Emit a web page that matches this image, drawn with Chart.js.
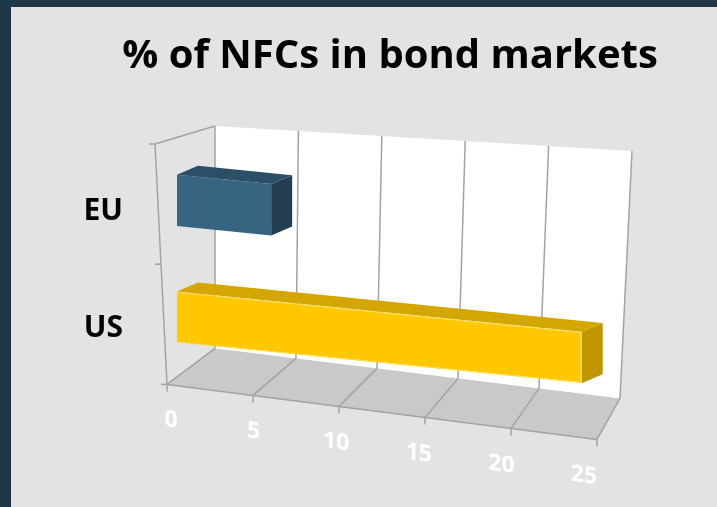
<!DOCTYPE html>
<html>
<head>
<meta charset="utf-8">
<script src="https://cdn.jsdelivr.net/npm/chart.js@4.4.1/dist/chart.umd.min.js"></script>
<style>
  html, body { margin: 0; padding: 0; background: #1f3748; }
  #panel { position: absolute; left: 11px; top: 7px; width: 706px; height: 500px; background: #e3e3e3; }
</style>
</head>
<body>
<div id="panel"><canvas id="bondChart" width="706" height="500"></canvas></div>
<script>
// data
const regions = ['EU', 'US'];
const nfcShare = [5.7, 24.5];
const xTicks = [0, 5, 10, 15, 20, 25];

const frontColors = ['#376480', '#ffc800'];
const topColors = ['#2b4f67', '#d4a700'];
const sideColors = ['#243e51', '#c09700'];

// fake 3d: bars get a slanted look, faces pushed back by dx/dy
const SHEAR = 0.1;
const LABEL_SHEAR = 0.134;
const DX = 21, DY = -11;

const poly = (ctx, pts, fill) => {
    ctx.beginPath();
    ctx.moveTo(pts[0][0], pts[0][1]);
    pts.slice(1).forEach(p => ctx.lineTo(p[0], p[1]));
    ctx.closePath();
    ctx.fillStyle = fill;
    ctx.fill();
};
const line = (ctx, p, q) => {
    ctx.beginPath();
    ctx.moveTo(p[0], p[1]);
    ctx.lineTo(q[0], q[1]);
    ctx.stroke();
};
const lerp = (p, q, f) => [p[0] + (q[0] - p[0]) * f, p[1] + (q[1] - p[1]) * f];

const frame3d = {
    id: 'frame3d',
    beforeDraw(chart) {
        const { ctx, chartArea: a, scales: { x } } = chart;
        const L = a.left, R = a.right, T = a.top, B = a.bottom;
        // back wall, floor and left side corners
        const wTL = [L + 38, T - 16], wTR = [R + 42, T + 9];
        const wBR = [R + 30, B + 23], wBL = [L + 38, B - 27];
        const fFL = [L - 10, B + 9], fFR = [R + 7, B + 64];
        const sTF = [L - 22, T + 2];

        ctx.save();
        poly(ctx, [wTL, wTR, wBR, wBL], '#ffffff');
        poly(ctx, [wBL, wBR, fFR, fFL], '#c9c9c9');
        ctx.strokeStyle = '#a3a3a3';
        ctx.lineWidth = 1.5;
        xTicks.forEach(v => {
            const f = (x.getPixelForValue(v) - L) / (R - L);
            line(ctx, lerp(wTL, wTR, f), lerp(wBL, wBR, f));
            line(ctx, lerp(wBL, wBR, f), lerp(fFL, fFR, f));
            const p = lerp(fFL, fFR, f);
            line(ctx, p, [p[0], p[1] + 7]);
        });
        line(ctx, fFL, fFR);
        line(ctx, sTF, wTL);
        line(ctx, sTF, fFL);
        [0, 0.5, 1].forEach(f => {
            const p = lerp(sTF, fFL, f);
            line(ctx, [p[0] - 6, p[1]], p);
        });
        ctx.restore();
    },
    beforeDatasetsDraw(chart) {
        const { ctx, chartArea: a } = chart;
        ctx.save();
        ctx.transform(1, SHEAR, 0, 1, 0, -SHEAR * a.left);
    },
    afterDatasetsDraw(chart) {
        const { ctx, chartArea: a } = chart;
        chart.getDatasetMeta(0).data.forEach((bar, i) => {
            const { x, y, base, height } = bar.getProps(['x', 'y', 'base', 'height'], true);
            const top = y - height / 2, bot = y + height / 2;
            poly(ctx, [[base, top], [x, top], [x + DX, top + DY], [base + DX, top + DY]], topColors[i]);
            poly(ctx, [[x, top], [x + DX, top + DY], [x + DX, bot + DY], [x, bot]], sideColors[i]);
        });
        ctx.restore();
        // x tick labels (z:1) are drawn after this, on the slanted floor line
        ctx.save();
        ctx.transform(1, LABEL_SHEAR, 0, 1, 0, -LABEL_SHEAR * a.left);
    },
    afterDraw(chart) {
        chart.ctx.restore();
    }
};

var ctx = document.getElementById('bondChart').getContext('2d');
var bondChart = new Chart(ctx, {
    type: 'bar',
    data: {
        labels: regions,
        datasets: [{
            label: '% of NFCs',
            data: nfcShare,
            yAxisID: 'y',
            backgroundColor: frontColors,
            borderColor: ['#376480', '#ffd94a'],
            borderWidth: [0, 1],
            barPercentage: 0.44,
            categoryPercentage: 1
        }]
    },
    options: {
        indexAxis: 'y',
        responsive: false,
        animation: false,
        layout: { padding: { left: 52, right: 0, top: 0, bottom: 40 } },
        plugins: {
            legend: { display: false },
            tooltip: { enabled: false },
            title: {
                display: true,
                text: '% of NFCs in bond markets',
                color: '#000',
                font: { family: "'Open Sans', sans-serif", size: 40, weight: 'bold' },
                padding: { top: 26, bottom: 61 }
            }
        },
        scales: {
            x: {
                min: 0,
                max: 25,
                grid: { display: false, drawTicks: false },
                border: { display: false },
                ticks: {
                    stepSize: 5,
                    color: '#ffffff',
                    font: { family: "'Open Sans', sans-serif", size: 23, weight: 'bold' },
                    padding: 32,
                    labelOffset: -6,
                    maxRotation: 0,
                    z: 1
                }
            },
            y: {
                grid: { display: false, drawTicks: false },
                border: { display: false },
                ticks: {
                    color: '#000',
                    font: { family: "'Open Sans', sans-serif", size: 30, weight: 'bold' },
                    padding: 54,
                    labelOffset: 11
                },
                afterFit: (s) => { s.width = 114; }
            },
            // empty right axis, only keeps room for the floor and wall
            yRight: {
                type: 'category',
                position: 'right',
                grid: { display: false, drawTicks: false },
                border: { display: false },
                ticks: { display: false },
                afterFit: (s) => { s.width = 127; }
            }
        }
    },
    plugins: [frame3d]
});
</script>
</body>
</html>
